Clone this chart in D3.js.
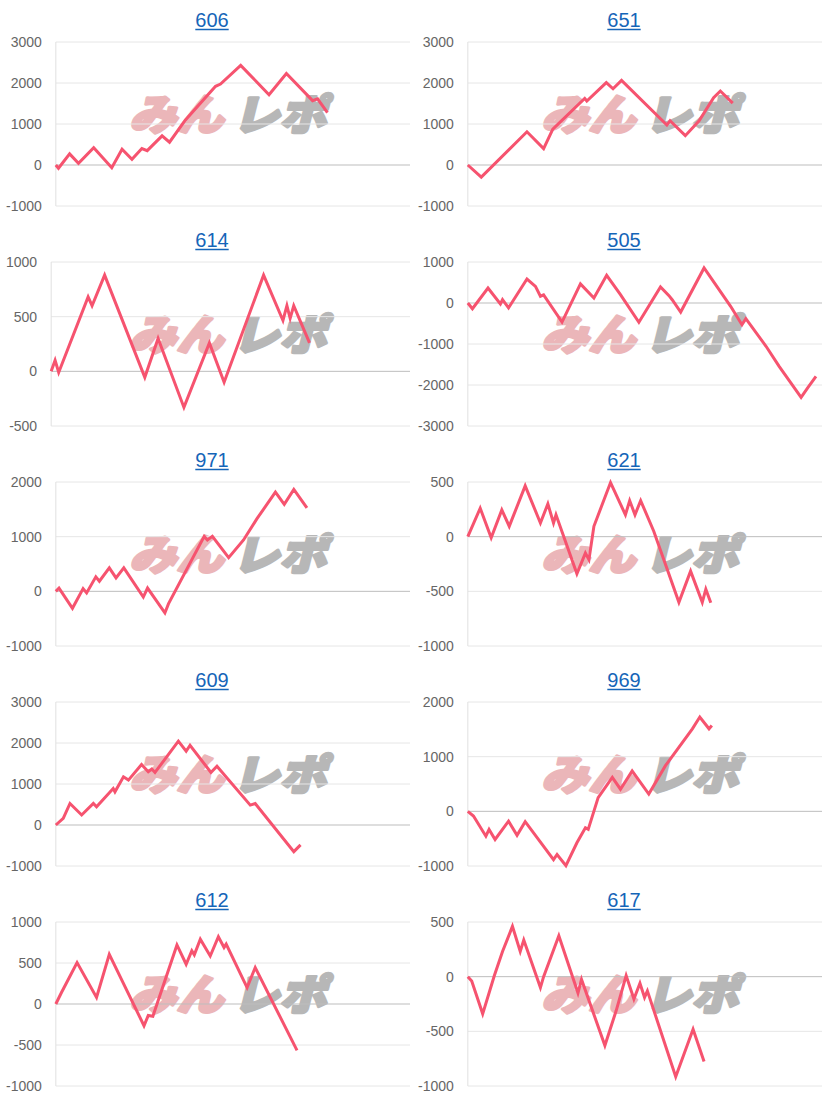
<!DOCTYPE html>
<html><head><meta charset="utf-8">
<script src="https://cdn.jsdelivr.net/npm/d3@7"></script>
<style>body{margin:0;background:#fff;} svg{display:block;}</style>
</head><body>
<svg id="chart" width="824" height="1100"></svg>
<script>
// ---- data ----
const titles = ["606", "651", "614", "505", "971", "621", "609", "969", "612", "617"];

const ticks606 = [-1000, 0, 1000, 2000, 3000];
const ticks651 = [-1000, 0, 1000, 2000, 3000];
const ticks614 = [-500, 0, 500, 1000];
const ticks505 = [-3000, -2000, -1000, 0, 1000];
const ticks971 = [-1000, 0, 1000, 2000];
const ticks621 = [-1000, -500, 0, 500];
const ticks609 = [-1000, 0, 1000, 2000, 3000];
const ticks969 = [-1000, 0, 1000, 2000];
const ticks612 = [-1000, -500, 0, 500, 1000];
const ticks617 = [-1000, -500, 0, 500];

// x: progress of the day (0-100), y: difference in coins
const games606 = [0, 0.75, 3.9, 6.4, 10.7, 15.8, 18.7, 21.5, 24.3, 25.8, 30, 32.1, 36.6, 45.1, 46.5, 52.2, 60.2, 65.1, 72.5, 73.9, 76.7];
const diff606  = [0, -80, 270, 40, 420, -65, 385, 140, 400, 350, 710, 555, 1100, 1920, 1975, 2430, 1715, 2230, 1570, 1615, 1280];

const games651 = [0, 3.8, 16.7, 21.4, 24, 33, 33.6, 39.1, 41, 43.4, 56.2, 57.1, 61.4, 65.3, 69.4, 71.3, 74.8];
const diff651  = [0, -295, 810, 400, 875, 1625, 1560, 2010, 1860, 2065, 975, 1080, 715, 1080, 1640, 1805, 1510];

const games614 = [0, 1.1, 2.1, 10.3, 11.4, 14.9, 26.1, 29.8, 37, 44.1, 48.2, 59.2, 64.6, 65.7, 66.6, 67.6, 72];
const diff614  = [0, 100, -10, 680, 600, 880, -55, 300, -330, 260, -100, 880, 465, 600, 485, 600, 260];

const games505 = [0, 1.3, 5.7, 9.2, 9.8, 11.5, 16.7, 19.1, 20.5, 21.4, 26.6, 31.8, 35.6, 39.2, 43.1, 48.3, 54.4, 56.8, 57.7, 60.1, 66.7, 74.2, 77.4, 78.5, 84.2, 87.9, 94.1, 95.9, 98.3];
const diff505  = [0, -140, 365, -25, 80, -120, 585, 405, 165, 200, -465, 465, 120, 675, 205, -470, 390, 180, 80, -220, 855, -80, -530, -380, -1055, -1545, -2300, -2075, -1790];

const games971 = [0, 0.9, 4.7, 7.7, 8.7, 11.3, 12.3, 15.1, 17, 19.2, 24.7, 25.9, 30.8, 31.8, 41.9, 42.8, 44.2, 48.8, 53, 56.8, 59.6, 62, 64.5, 67.2, 70.9];
const diff971  = [0, 60, -310, 50, -30, 265, 185, 430, 245, 430, -105, 60, -395, -230, 1005, 940, 1005, 615, 940, 1330, 1590, 1815, 1590, 1865, 1525];

const games621 = [0, 3.5, 6.6, 9.6, 11.7, 16.2, 20.5, 22.6, 24.2, 24.9, 30.8, 33.2, 34.2, 35.6, 40.3, 44.5, 45.7, 47.2, 48.8, 52.5, 59.6, 62.9, 66.2, 67.2, 68.6];
const diff621  = [0, 260, -10, 245, 95, 465, 125, 300, 125, 200, -340, -150, -210, 95, 495, 200, 330, 200, 330, 50, -600, -315, -600, -480, -605];

const games609 = [0, 2.1, 4, 7.3, 10.6, 11.5, 16.2, 16.7, 19.1, 20.5, 24.2, 26.1, 27.1, 28, 34.6, 36.8, 37.9, 43.8, 45.5, 54.9, 56.3, 67.2, 69.1];
const diff609  = [0, 160, 525, 245, 525, 445, 890, 810, 1175, 1095, 1475, 1300, 1365, 1280, 2045, 1800, 1945, 1280, 1435, 485, 525, -650, -485];

const games969 = [0, 1.6, 5.1, 6, 7.7, 11.5, 13.9, 16.2, 24.2, 25.2, 27.7, 30.8, 33.2, 34, 36.8, 40.8, 43.1, 46.4, 51.1, 55.8, 63.4, 65.5, 68.1, 68.9];
const diff969  = [0, -85, -455, -330, -515, -180, -440, -190, -885, -790, -995, -575, -300, -330, 250, 620, 405, 740, 315, 835, 1510, 1725, 1510, 1570];

const games612 = [0, 1.6, 6, 11.5, 15.1, 24.9, 26.1, 27.4, 34.2, 36.8, 38.4, 39.1, 40.8, 43.6, 45.9, 47.5, 48.1, 54, 56.3, 68.1];
const diff612  = [0, 140, 505, 80, 605, -265, -140, -150, 720, 485, 650, 600, 790, 585, 820, 690, 730, 200, 445, -565];

const games617 = [0, 1.1, 4.2, 7.5, 9.8, 12.6, 14.8, 15.8, 20.5, 21.4, 25.7, 31.1, 32.1, 38.7, 41.9, 44.7, 46.9, 48.6, 49.9, 50.7, 58.7, 63.6, 66.7];
const diff617  = [0, -40, -340, 10, 230, 460, 230, 335, -100, 0, 375, -150, -25, -630, -310, 10, -205, -60, -190, -130, -915, -480, -775];

const xDomain = [0, 100];
const watermarkParts = ["みん", "レポ"];

const charts = [
  {title: titles[0], ticks: ticks606, games: games606, diff: diff606},
  {title: titles[1], ticks: ticks651, games: games651, diff: diff651},
  {title: titles[2], ticks: ticks614, games: games614, diff: diff614},
  {title: titles[3], ticks: ticks505, games: games505, diff: diff505},
  {title: titles[4], ticks: ticks971, games: games971, diff: diff971},
  {title: titles[5], ticks: ticks621, games: games621, diff: diff621},
  {title: titles[6], ticks: ticks609, games: games609, diff: diff609},
  {title: titles[7], ticks: ticks969, games: games969, diff: diff969},
  {title: titles[8], ticks: ticks612, games: games612, diff: diff612},
  {title: titles[9], ticks: ticks617, games: games617, diff: diff617}
];

// ---- drawing ----
const svg = d3.select("#chart");
const FONT = "'Liberation Sans', Arial, sans-serif";
const LINE = "#f6536f";
const fmt = v => String(v); // plain hyphen-minus, as in the reference

charts.forEach((c, i) => {
  const col = i % 2, row = Math.floor(i / 2);
  const px = col * 412, top = row * 220;
  const g = svg.append("g");

  // measure widest tick label
  let maxW = 0;
  c.ticks.forEach(v => {
    const t = g.append("text").attr("font-family", FONT).attr("font-size", 14).text(fmt(v));
    maxW = Math.max(maxW, t.node().getComputedTextLength());
    t.remove();
  });
  const x0 = px + 6 + maxW + 14;
  const x1 = px + 410;
  const y0 = top + 42, y1 = top + 206;

  const x = d3.scaleLinear().domain(xDomain).range([x0, x1]);
  const y = d3.scaleLinear().domain(d3.extent(c.ticks)).range([y1, y0]);

  // title
  const tt = g.append("text")
    .attr("x", px + 212).attr("y", top + 27)
    .attr("text-anchor", "middle")
    .attr("font-family", FONT).attr("font-size", 20)
    .attr("fill", "#1565b8")
    .text(c.title);
  const tw = tt.node().getComputedTextLength();
  g.append("line")
    .attr("x1", px + 212 - tw / 2).attr("x2", px + 212 + tw / 2)
    .attr("y1", top + 29.5).attr("y2", top + 29.5)
    .attr("stroke", "#1565b8").attr("stroke-width", 1.5);

  // watermark
  const cy = top + 112;
  const wm = g.append("g")
    .attr("transform", `translate(${px + 232},${cy}) skewX(-14) translate(${-(px + 232)},${-cy})`);
  [[watermarkParts[0], px + 134, "#ebb6b9"], [watermarkParts[1], px + 237, "#b7b7b7"]].forEach(([txt, tx, col]) => {
    wm.append("text")
      .attr("x", tx).attr("y", cy)
      .attr("dominant-baseline", "central")
      .attr("font-family", "'Noto Sans CJK JP', sans-serif").attr("font-weight", 900)
      .attr("font-size", 42)
      .attr("textLength", 94).attr("lengthAdjust", "spacingAndGlyphs")
      .attr("fill", col).attr("stroke", col).attr("stroke-width", 3).attr("stroke-linejoin", "round")
      .text(txt);
  });

  // grid
  g.selectAll(".grid").data(c.ticks).enter().append("line")
    .attr("x1", x0).attr("x2", x1)
    .attr("y1", d => y(d)).attr("y2", d => y(d))
    .attr("stroke", d => d === 0 ? "#bdbdbd" : "#e6e6e6")
    .attr("stroke-width", 1);
  g.append("line")
    .attr("x1", x0).attr("x2", x0).attr("y1", y0).attr("y2", y1)
    .attr("stroke", "#e0e0e0").attr("stroke-width", 1);

  // tick labels
  g.selectAll(".lbl").data(c.ticks).enter().append("text")
    .attr("x", x0 - 14).attr("y", d => y(d))
    .attr("dy", "0.36em")
    .attr("text-anchor", "end")
    .attr("font-family", FONT).attr("font-size", 14)
    .attr("fill", "#666")
    .text(d => fmt(d));

  // line
  const pts = c.games.map((gx, k) => [gx, c.diff[k]]);
  g.append("path")
    .datum(pts)
    .attr("fill", "none")
    .attr("stroke", LINE)
    .attr("stroke-width", 3)
    .attr("stroke-linejoin", "miter")
    .attr("d", d3.line().x(d => x(d[0])).y(d => y(d[1])));
});
</script>
</body></html>
